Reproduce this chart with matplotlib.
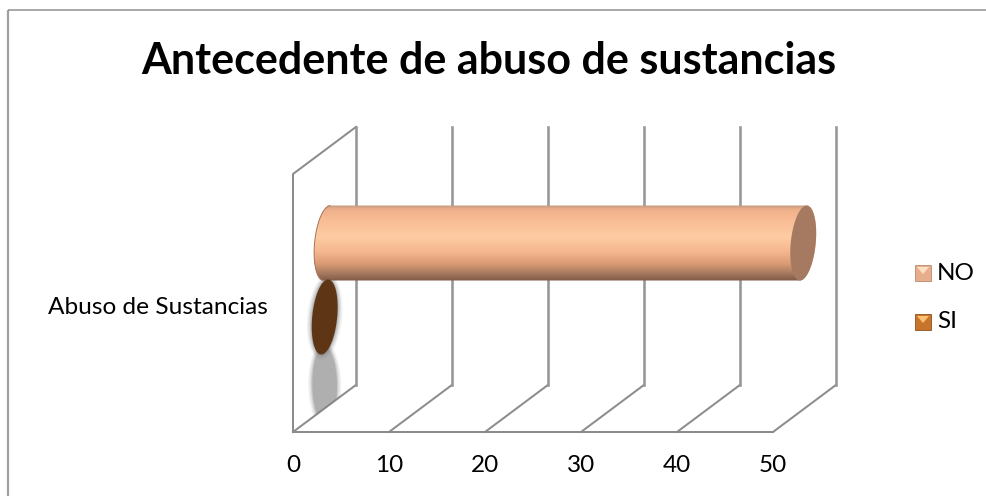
import numpy as np
import matplotlib
matplotlib.use("Agg")
import matplotlib.pyplot as plt
from matplotlib.patches import Polygon, Rectangle
from matplotlib.colors import LinearSegmentedColormap

title = "Antecedente de abuso de sustancias"
category = "Abuso de Sustancias"
series_names = ["NO", "SI"]
series_values = [49.6, 0]
x_ticks = [0, 10, 20, 30, 40, 50]

W, H = 986, 496
PX = 9.6            # pixels per data unit
X0 = 293            # pixel of value 0 on the front edge
DEPTH_X = 6.55      # wall depth in data units
FLOOR, BACK_FLOOR = 432, 385
FRONT_TOP, BACK_TOP = 174, 127
GRID = "#8c8c8c"

plt.rcParams["font.family"] = ["Lato", "DejaVu Sans"]
fig = plt.figure(figsize=(W / 100, H / 100), dpi=100)
ax = fig.add_axes([0, 0, 1, 1])
ax.set_xlim(-X0 / PX, (W - X0) / PX)
ax.set_ylim(H, 0)
ax.axis("off")

# chart frame
lw = 72 / 100
fx = lambda p: (p - X0) / PX
ax.plot([fx(8), fx(8)], [H, 9.5], color="#a0a0a0", lw=2.2 * lw, solid_capstyle="butt")
ax.plot([fx(8), fx(W)], [9.5, 9.5], color="#8f8f8f", lw=1.5 * lw, solid_capstyle="butt")

# walls and grid
ax.plot([x_ticks[0], x_ticks[0], x_ticks[0] + DEPTH_X], [FLOOR, FRONT_TOP, BACK_TOP],
        color=GRID, lw=2 * lw)
ax.plot([x_ticks[0], x_ticks[-1]], [FLOOR, FLOOR], color=GRID, lw=2 * lw)
for t in x_ticks:
    ax.plot([t, t + DEPTH_X], [FLOOR, BACK_FLOOR], color=GRID, lw=2 * lw, zorder=2)
    ax.plot([t + DEPTH_X, t + DEPTH_X], [BACK_FLOOR, BACK_TOP], color="#979797", lw=2.6 * lw, zorder=2)
    ax.text(t, 465, str(t), ha="center", va="center", fontsize=17.5, color="black")


def ell(cx, cy, a=12.5, b=37.5, s=3.4, ts=(0, 2 * np.pi), n=80):
    t = np.linspace(ts[0], ts[1], n)
    return np.column_stack([cx + (a * np.cos(t) - s * np.sin(t)) / PX, cy + b * np.sin(t)])


zero = {"NO": 3.55, "SI": 3.3}   # each bar's zero in data units (mid depth)
row_y = {"NO": 243, "SI": 317}

# shadow of the zero-length SI bar
clip = Polygon([(0, FLOOR), (DEPTH_X, BACK_FLOOR), (DEPTH_X + 2, 200), (0, 200)],
               closed=True, transform=ax.transData)
for grow, alpha in [(5, .10), (3.5, .16), (2, .24), (0.8, .34)]:
    ax.add_patch(Polygon(ell(zero["SI"], 317, 12.5 + grow, 37.5 + grow), closed=True, fc="#808080",
                         ec="none", alpha=alpha, zorder=3))
    sh = Polygon(ell(zero["SI"], 385, 11.5 + grow, 38 + grow, s=-0.5), closed=True, fc="#808080",
                 ec="none", alpha=alpha, zorder=3)
    ax.add_patch(sh)
    sh.set_clip_path(clip)

# NO bar : gradient cylinder
v = series_values[0]
cy = row_y["NO"]
z = zero["NO"]
outline = np.vstack([ell(z, cy, ts=(np.pi / 2, 3 * np.pi / 2)),
                     ell(z + v, cy, ts=(-np.pi / 2, np.pi / 2))])
body = Polygon(outline, closed=True, fc="none", ec="none", zorder=4)
ax.add_patch(body)
cmap = LinearSegmentedColormap.from_list("c", [
    (0, "#c49a80"), (.06, "#eeb08a"), (.2, "#f9bd95"), (.42, "#fdcca3"), (.62, "#f5b68e"),
    (.78, "#d89a74"), (.9, "#a67a5e"), (1, "#7d5a46")])
im = ax.imshow(np.linspace(0, 1, 256)[:, None], extent=(z - 2, z + v + 2, cy + 38, cy - 38),
               cmap=cmap, aspect="auto", zorder=4)
im.set_clip_path(body)
ax.set_xlim(-X0 / PX, (W - X0) / PX)
ax.set_ylim(H, 0)
ax.add_patch(Polygon(ell(z, cy, ts=(np.pi / 2, 3 * np.pi / 2)), closed=False, fc="none",
                     ec="#a8735a", lw=0.7, zorder=5))
ax.add_patch(Polygon(ell(z + v, cy), closed=True, fc="#a57a60", ec="none", zorder=5))

# SI bar : zero length, only the cap shows
ax.add_patch(Polygon(ell(zero["SI"] + series_values[1], row_y["SI"]), closed=True, fc="#5e3616",
                     ec="none", zorder=5))

ax.text(fx(268), 307, category, ha="right", va="center", fontsize=17.6, color="black")
ax.text(fx(489), 61, title, ha="center", va="center", fontsize=31, fontweight="bold", color="black")

# legend
for name, y, fc, light, dark in [(series_names[0], 265, "#e8ae8c", "#fde0c4", "#b98a70"),
                                 (series_names[1], 314, "#c8752c", "#fcc070", "#8a5020")]:
    x = fx(915)
    w = 16 / PX
    ax.add_patch(Rectangle((x, y), w, 16, fc=fc, ec=dark, lw=0.6, zorder=5))
    ax.add_patch(Polygon([(x + 2 / PX, y + 2), (x + w - 2 / PX, y + 2), (x + w / 2, y + 9)], closed=True,
                         fc=light, ec="none", zorder=6))
    ax.text(fx(937), y + 8, name, ha="left", va="center", fontsize=17.5, color="black")

fig.savefig("out.png", dpi=100, facecolor="white")
